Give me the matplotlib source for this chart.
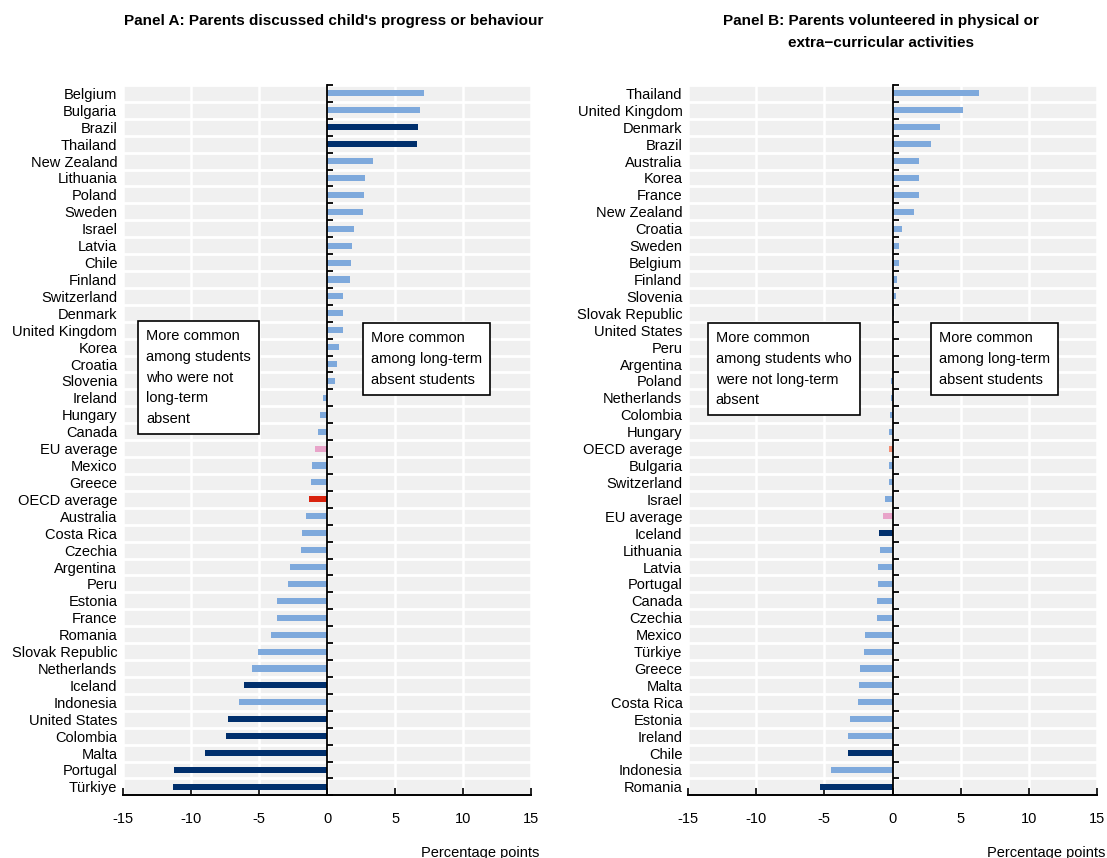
import numpy as np
import matplotlib.pyplot as plt

plt.rcParams['font.family'] = ['Liberation Sans', 'DejaVu Sans']

# Panel A data
countries_a = ["Belgium", "Bulgaria", "Brazil", "Thailand", "New Zealand", "Lithuania", "Poland",
               "Sweden", "Israel", "Latvia", "Chile", "Finland", "Switzerland", "Denmark",
               "United Kingdom", "Korea", "Croatia", "Slovenia", "Ireland", "Hungary", "Canada",
               "EU average", "Mexico", "Greece", "OECD average", "Australia", "Costa Rica",
               "Czechia", "Argentina", "Peru", "Estonia", "France", "Romania", "Slovak Republic",
               "Netherlands", "Iceland", "Indonesia", "United States", "Colombia", "Malta",
               "Portugal", "Türkiye"]
values_a = [7.1, 6.8, 6.7, 6.6, 3.4, 2.8, 2.7, 2.6, 1.95, 1.8, 1.75, 1.7, 1.2, 1.2,
            1.2, 0.9, 0.7, 0.55, -0.3, -0.5, -0.7, -0.9, -1.1, -1.15, -1.3, -1.55, -1.85,
            -1.9, -2.7, -2.9, -3.65, -3.65, -4.15, -5.1, -5.5, -6.1, -6.45, -7.3, -7.4, -9.0,
            -11.25, -11.3]
dark_a = ["Brazil", "Thailand", "Iceland", "United States", "Colombia", "Malta", "Portugal", "Türkiye"]

# Panel B data
countries_b = ["Thailand", "United Kingdom", "Denmark", "Brazil", "Australia", "Korea", "France",
               "New Zealand", "Croatia", "Sweden", "Belgium", "Finland", "Slovenia",
               "Slovak Republic", "United States", "Peru", "Argentina", "Poland", "Netherlands",
               "Colombia", "Hungary", "OECD average", "Bulgaria", "Switzerland", "Israel",
               "EU average", "Iceland", "Lithuania", "Latvia", "Portugal", "Canada", "Czechia",
               "Mexico", "Türkiye", "Greece", "Malta", "Costa Rica", "Estonia", "Ireland", "Chile",
               "Indonesia", "Romania"]
values_b = [6.35, 5.2, 3.5, 2.85, 1.95, 1.95, 1.95, 1.6, 0.7, 0.5, 0.45, 0.35, 0.25,
            0.08, 0.0, 0.0, 0.0, -0.1, -0.12, -0.17, -0.23, -0.28, -0.25, -0.28, -0.55,
            -0.67, -0.97, -0.95, -1.1, -1.08, -1.12, -1.15, -2.05, -2.1, -2.4, -2.45,
            -2.5, -3.1, -3.25, -3.3, -4.5, -5.35]
dark_b = ["Iceland", "Chile", "Romania"]

light = "#7ea9dc"
dark = "#002f6c"
pink = "#e8a4c9"


def bar_colors(countries, darks, oecd_col):
    cols = []
    for c in countries:
        if c in darks:
            cols.append(dark)
        elif c == "OECD average":
            cols.append(oecd_col)
        elif c == "EU average":
            cols.append(pink)
        else:
            cols.append(light)
    return cols


def draw_panel(ax, countries, values, colors, box_left, box_right):
    n = len(countries)
    y = np.arange(n)
    ax.set_facecolor("#f0f0f0")
    ax.barh(y, values, height=0.36, color=colors, zorder=3)
    ax.set_xlim(-15, 15)
    ax.set_ylim(n - 0.5, -0.5)
    ax.set_yticks(y)
    ax.set_yticklabels(countries, fontsize=10.5)
    ax.set_yticks(np.arange(n + 1) - 0.5, minor=True)
    ax.tick_params(axis='y', which='both', length=0, pad=4)
    ax.set_xticks(np.arange(-15, 16, 5))
    ax.set_xticklabels([str(v) for v in range(-15, 16, 5)], fontsize=10.5)
    ax.tick_params(axis='x', direction='in', length=5, width=1.2, pad=12)
    ax.grid(which='minor', axis='y', color='white', lw=2.0, zorder=1)
    ax.grid(which='major', axis='x', color='white', lw=1.8, zorder=1)
    ax.grid(which='major', axis='y', visible=False)
    for s in ['top', 'right', 'left']:
        ax.spines[s].set_visible(False)
    ax.spines['bottom'].set_linewidth(1.4)
    ax.set_axisbelow(True)
    # zero line with small ticks at the row boundaries
    zx = ax.twinx()
    zx.set_ylim(n - 0.5, -0.5)
    for s in ['top', 'right', 'bottom']:
        zx.spines[s].set_visible(False)
    zx.spines['left'].set_visible(True)
    zx.spines['left'].set_position(('data', 0))
    zx.spines['left'].set_linewidth(1.3)
    zx.yaxis.set_ticks_position('left')
    zx.set_yticks(np.arange(n + 1) - 0.5)
    zx.tick_params(axis='y', direction='in', length=4, width=1.3, labelleft=False, labelright=False)
    zx.set_zorder(ax.get_zorder() + 1)
    zx.patch.set_visible(False)
    ax.text(1.02, -0.081, "Percentage points", transform=ax.transAxes, ha='right', va='center', fontsize=10.5)
    bbox = dict(boxstyle='square,pad=0.55', facecolor='white', edgecolor='black', lw=1.2)
    for bx, by, btxt in [box_left, box_right]:
        zx.text(bx, by, btxt, transform=ax.transAxes, ha='left', va='top', fontsize=10.5,
                linespacing=1.6, bbox=bbox, zorder=5)


fig = plt.figure(figsize=(11.07, 8.58), dpi=100)
ax_a = fig.add_axes([0.111, 0.073, 0.369, 0.828])
ax_b = fig.add_axes([0.6215, 0.073, 0.3695, 0.828])

draw_panel(ax_a, countries_a, values_a, bar_colors(countries_a, dark_a, "#d9230f"),
           (0.057, 0.656, "More common\namong students\nwho were not\nlong-term\nabsent"),
           (0.608, 0.653, "More common\namong long-term\nabsent students"))
draw_panel(ax_b, countries_b, values_b, bar_colors(countries_b, dark_b, "#f28c72"),
           (0.068, 0.653, "More common\namong students who\nwere not long-term\nabsent"),
           (0.614, 0.653, "More common\namong long-term\nabsent students"))

fig.text(334 / 1107, 1 - 14 / 858, "Panel A: Parents discussed child's progress or behaviour",
         ha='center', va='top', fontsize=11, fontweight='bold')
fig.text(881 / 1107, 1 - 14 / 858, "Panel B: Parents volunteered in physical or\nextra\u2212curricular activities",
         ha='center', va='top', fontsize=11, fontweight='bold', linespacing=1.75)

fig.savefig("out.png", dpi=100)
